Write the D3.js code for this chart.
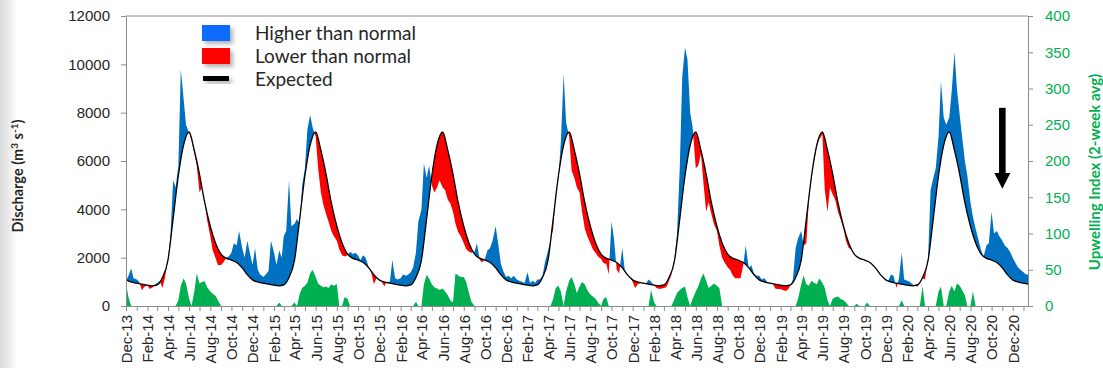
<!DOCTYPE html>
<html>
<head>
<meta charset="utf-8">
<script src="https://cdn.jsdelivr.net/npm/d3@7"></script>
<style>
  body { margin: 0; background: #fff; }
  svg { font-family: Lato, "Noto Sans", sans-serif; }
  .axis path, .axis line { stroke: #8c8c8c; }
  .axis text { font-size: 15px; fill: #262626; }
  .axis-right text { fill: #00b050; }
  .legend text { font-size: 19px; fill: #262626; }
</style>
</head>
<body>
<svg width="1103" height="368"></svg>
<script>
// 4 samples per month, first month is Dec 2013
const sampleDays = [1, 8, 16, 23];

// river discharge (m3/s), one row per Dec..Nov season
const discharge = [
  // Dec13 - Nov14
  1050,1250,1550,1150, 1100,1000,650,800, 850,700,780,900, 950,1050,750,1150, 1900,2870,5200,4900, 5800,9800,8600,7500,
  7150,6850,6300,5800, 4700,4900,4300,3550, 2900,2300,2000,1700, 1700,1800,2000,2050, 2200,2600,2500,3100, 2400,2000,2700,2200,
  // Dec14 - Nov15
  1700,2400,1500,1300, 1200,1300,1450,2700, 2200,1700,2300,2000, 2900,3100,5200,3300, 3400,3600,3400,5000, 5700,7300,7900,7400,
  7000,5700,4700,4200, 3800,3500,3100,2900, 2700,2350,2100,2050, 2100,2250,2150,2200, 2100,1900,2100,2000, 1600,1400,900,1150,
  // Dec15 - Nov16
  1100,1000,820,1000, 1000,1900,1150,1100, 1150,1300,1250,1300, 1400,1600,2200,3500, 4000,5900,5300,5800, 5000,4700,4900,5200,
  4900,4800,4400,4250, 3900,3400,3050,2900, 2600,2350,2250,2200, 2250,2600,1900,1800, 1950,2300,2400,2700, 3300,2600,1750,1450,
  // Dec16 - Nov17
  1200,1250,1150,1250, 1100,1050,1000,950, 1400,950,1050,950, 1100,1100,1250,1800, 2300,2700,3200,4600, 5300,6800,9600,7600,
  7000,5600,5300,4900, 4700,3900,3200,2900, 2600,2350,2200,2050, 1950,1770,1750,1300, 3500,2800,1500,1350, 2400,1500,1300,1200,
  // Dec17 - Nov18
  1000,750,900,950, 950,920,1100,1000, 850,750,700,720, 750,780,1050,1300, 2000,3000,5800,9500, 10700,10200,8000,7400,
  5700,5800,6300,5100, 3900,4300,3800,3400, 3100,2500,2000,1800, 1600,1500,1250,1150, 1150,1150,1700,2500, 1550,1700,1350,1250,
  // Dec18 - Nov19
  1250,1100,1150,1000, 950,950,720,700, 700,650,620,700, 870,1100,2400,2800, 3100,2500,2600,4400, 5350,6000,6600,6900,
  7100,4800,3900,4900, 4600,4400,3900,3600, 3200,2700,2400,2350, 2150,2050,1980,1940, 1900,1850,1810,1700, 1580,1450,1310,1200,
  // Dec19 - Nov20
  1100,1050,1300,1250, 750,1150,2200,1100, 1050,1000,900,850, 800,950,1150,1100, 2000,4800,5300,5700, 7000,9300,7800,7500,
  7800,8900,10500,9000, 7900,7000,6000,5400, 4300,3700,3200,2800, 2300,2050,2500,2600, 3900,3000,3100,2900, 2700,2500,2400,2250,
  // Dec20 - Jan21
  2000,1800,1600,1500, 1400,1300,1300
];

// upwelling index (2-week avg), same dates as discharge
const upwelling = [
  32,12,0,0, 0,0,0,0, 0,0,0,0, 0,0,0,0, 0,0,0,0, 8,28,38,31, 10,0,20,45, 31,33,34,26, 20,17,14,8, 0,0,0,0, 0,0,0,0, 0,0,0,0,
  0,0,0,0, 0,0,0,0, 0,0,5,0, 0,0,0,0, 5,0,17,25, 28,32,45,50, 40,31,28,26, 27,25,30,28, 30,0,0,12, 10,0,0,0, 0,0,0,0, 0,0,0,0,
  0,0,0,0, 0,0,0,0, 0,0,0,0, 0,0,6,0, 0,30,43,38, 30,26,24,22, 24,20,15,8, 5,45,42,40, 40,33,18,6, 0,0,0,0, 0,0,0,0, 0,0,0,0,
  0,0,0,0, 0,0,0,0, 0,0,0,0, 0,0,0,0, 0,0,10,25, 28,20,0,20, 35,40,30,18, 27,33,30,22, 16,13,10,5, 0,10,12,0, 0,0,0,0, 0,0,0,0,
  0,0,0,0, 0,0,0,22, 5,0,0,0, 0,0,0,0, 10,18,22,25, 27,12,0,10, 20,27,38,45, 35,25,28,31, 28,25,0,0, 0,0,0,0, 0,0,0,0, 0,0,0,0,
  0,0,0,0, 0,0,0,0, 0,0,0,0, 0,0,0,10, 30,42,30,28, 35,32,30,38, 32,25,8,0, 10,12,13,10, 8,5,0,0, 0,3,0,0, 0,5,0,0, 0,0,0,0,
  0,0,0,0, 0,0,8,0, 0,0,0,0, 0,0,27,0, 0,0,0,0, 20,27,0,0, 20,28,20,31, 28,22,15,0, 0,20,0,0, 0,0,0,0, 0,0,0,0, 0,0,0,0,
  0,0,0,0, 0,0,0
];

// expected (climatological) discharge, 1st and 15th of each month, Dec..Nov
const expectedDays = [1, 15];
const expectedCycle = [1080, 995, 945, 905, 860, 835, 870, 1150, 1900, 3500, 5400, 6600,
                       7200, 6500, 5450, 4350, 3300, 2650, 2150, 1980, 1900, 1810, 1580, 1310];

const dischargeTicks = [0, 2000, 4000, 6000, 8000, 10000, 12000];
const upwellingTicks = [0, 50, 100, 150, 200, 250, 300, 350, 400];

const legendItems = [
  { label: "Higher than normal", color: "#0a6cff", kind: "box" },
  { label: "Lower than normal", color: "#ff0000", kind: "box" },
  { label: "Expected", color: "#000000", kind: "line" }
];

// arrow marking the latest high flows
const arrowNote = { date: new Date(2020, 10, 1), from: 8200, head: 5500, to: 4850 };

const svg = d3.select("svg");
const pLeft = 126, pRight = 1028, pTop = 16, pBottom = 306;

const x = d3.scaleTime()
  .domain([new Date(2013, 11, 1), new Date(2021, 0, 14)])
  .range([pLeft, pRight]);
const y = d3.scaleLinear().domain([0, 12000]).range([pBottom, pTop]);
const yUp = d3.scaleLinear().domain([0, 400]).range([pBottom, pTop]);

const samples = discharge.map((v, i) => ({
  date: new Date(2013, 11 + Math.floor(i / 4), sampleDays[i % 4]),
  q: v,
  up: upwelling[i]
}));

const expected = [];
for (let yr = 2013; yr <= 2020; yr++) {
  expectedCycle.forEach((v, i) => {
    const d = new Date(yr, 11 + Math.floor(i / 2), expectedDays[i % 2]);
    if (d <= new Date(2021, 1, 1)) expected.push({ date: d, q: v });
  });
}

const defs = svg.append("defs");

// faint grey band at the left edge
const grad = defs.append("linearGradient").attr("id", "edge");
grad.append("stop").attr("offset", "0%").attr("stop-color", "#d9d9d9");
grad.append("stop").attr("offset", "100%").attr("stop-color", "#ffffff");
svg.append("rect").attr("x", 0).attr("y", 0).attr("width", 18).attr("height", 368)
  .attr("fill", "url(#edge)");

defs.append("clipPath").attr("id", "plot")
  .append("rect").attr("x", pLeft).attr("y", pTop)
  .attr("width", pRight - pLeft).attr("height", pBottom - pTop);

defs.append("clipPath").attr("id", "below-actual")
  .append("path")
  .attr("d", d3.area().x(d => x(d.date)).y0(pBottom).y1(d => y(d.q))(samples));
defs.append("clipPath").attr("id", "above-actual")
  .append("path")
  .attr("d", d3.area().x(d => x(d.date)).y0(pTop - 5).y1(d => y(d.q))(samples));

const shadow = defs.append("filter").attr("id", "shadow")
  .attr("x", "-30%").attr("y", "-30%").attr("width", "170%").attr("height", "190%");
shadow.append("feDropShadow").attr("dx", 3).attr("dy", 3).attr("stdDeviation", 2)
  .attr("flood-color", "#7f7f7f").attr("flood-opacity", 0.6);

const plot = svg.append("g").attr("clip-path", "url(#plot)");

// upwelling
plot.append("path")
  .datum(samples)
  .attr("fill", "#00b050")
  .attr("d", d3.area().x(d => x(d.date)).y0(pBottom).y1(d => yUp(d.up)));

// higher than normal
plot.append("g").attr("clip-path", "url(#below-actual)")
  .append("path")
  .datum(expected)
  .attr("fill", "#0070c0")
  .attr("d", d3.area().curve(d3.curveMonotoneX).x(d => x(d.date)).y0(pTop - 5).y1(d => y(d.q)));

// lower than normal
plot.append("g").attr("clip-path", "url(#above-actual)")
  .append("path")
  .datum(expected)
  .attr("fill", "#ff0000")
  .attr("d", d3.area().curve(d3.curveMonotoneX).x(d => x(d.date)).y0(pBottom).y1(d => y(d.q)));

// expected
plot.append("path")
  .datum(expected)
  .attr("fill", "none")
  .attr("stroke", "#000")
  .attr("stroke-width", 1.3)
  .attr("d", d3.line().curve(d3.curveMonotoneX).x(d => x(d.date)).y(d => y(d.q)));

// axes
const fmt = d3.timeFormat("%b-%y");
const months = d3.timeMonth.range(new Date(2013, 11, 1), new Date(2021, 0, 2));

const gx = svg.append("g").attr("class", "axis")
  .attr("transform", `translate(0,${pBottom})`)
  .call(d3.axisBottom(x).tickValues(months).tickSize(5).tickSizeOuter(0)
    .tickFormat((d, i) => i % 2 === 0 ? fmt(d) : ""));
gx.selectAll("text")
  .attr("transform", "rotate(-90)")
  .attr("text-anchor", "end")
  .attr("x", -9).attr("y", 0).attr("dy", "0.36em");

svg.append("g").attr("class", "axis")
  .attr("transform", `translate(${pLeft},0)`)
  .call(d3.axisLeft(y).tickValues(dischargeTicks).tickSize(5).tickSizeOuter(0).tickPadding(11)
    .tickFormat(d3.format("d")));

svg.append("g").attr("class", "axis axis-right")
  .attr("transform", `translate(${pRight},0)`)
  .call(d3.axisRight(yUp).tickValues(upwellingTicks).tickSize(5).tickSizeOuter(0).tickPadding(12));

svg.append("line")
  .attr("x1", pLeft).attr("x2", pRight).attr("y1", pTop).attr("y2", pTop)
  .attr("stroke", "#8c8c8c");

// axis titles
const lt = svg.append("text")
  .attr("transform", "translate(23,176) rotate(-90)")
  .attr("text-anchor", "middle")
  .style("font-size", "14.5px").style("font-weight", "bold").attr("fill", "#262626");
lt.append("tspan").text("Discharge (m");
lt.append("tspan").attr("dy", -5).style("font-size", "10px").text("3");
lt.append("tspan").attr("dy", 5).text(" s");
lt.append("tspan").attr("dy", -5).style("font-size", "10px").text("-1");
lt.append("tspan").attr("dy", 5).text(")");

svg.append("text")
  .attr("transform", "translate(1100,172) rotate(-90)")
  .attr("text-anchor", "middle")
  .style("font-size", "15px").style("font-weight", "bold").attr("fill", "#00b050")
  .text("Upwelling Index (2-week avg)");

// legend
const legend = svg.append("g").attr("class", "legend");
legendItems.forEach((it, i) => {
  const cy = 33 + i * 23;
  if (it.kind === "box") {
    legend.append("rect").attr("x", 202).attr("y", cy - 8).attr("width", 28).attr("height", 16)
      .attr("fill", it.color).attr("filter", "url(#shadow)");
  } else {
    legend.append("rect").attr("x", 203).attr("y", cy - 3).attr("width", 26).attr("height", 5)
      .attr("fill", it.color).attr("filter", "url(#shadow)");
  }
  legend.append("text").attr("x", 255).attr("y", cy).attr("dy", "0.35em").text(it.label);
});

// arrow
const ax = x(arrowNote.date);
svg.append("rect")
  .attr("x", ax - 3.3).attr("y", y(arrowNote.from))
  .attr("width", 6.6).attr("height", y(arrowNote.head) - y(arrowNote.from))
  .attr("fill", "#000");
svg.append("path")
  .attr("d", d3.line()([[ax - 8, y(arrowNote.head)], [ax + 8, y(arrowNote.head)], [ax, y(arrowNote.to)]]))
  .attr("fill", "#000");
</script>
</body>
</html>
